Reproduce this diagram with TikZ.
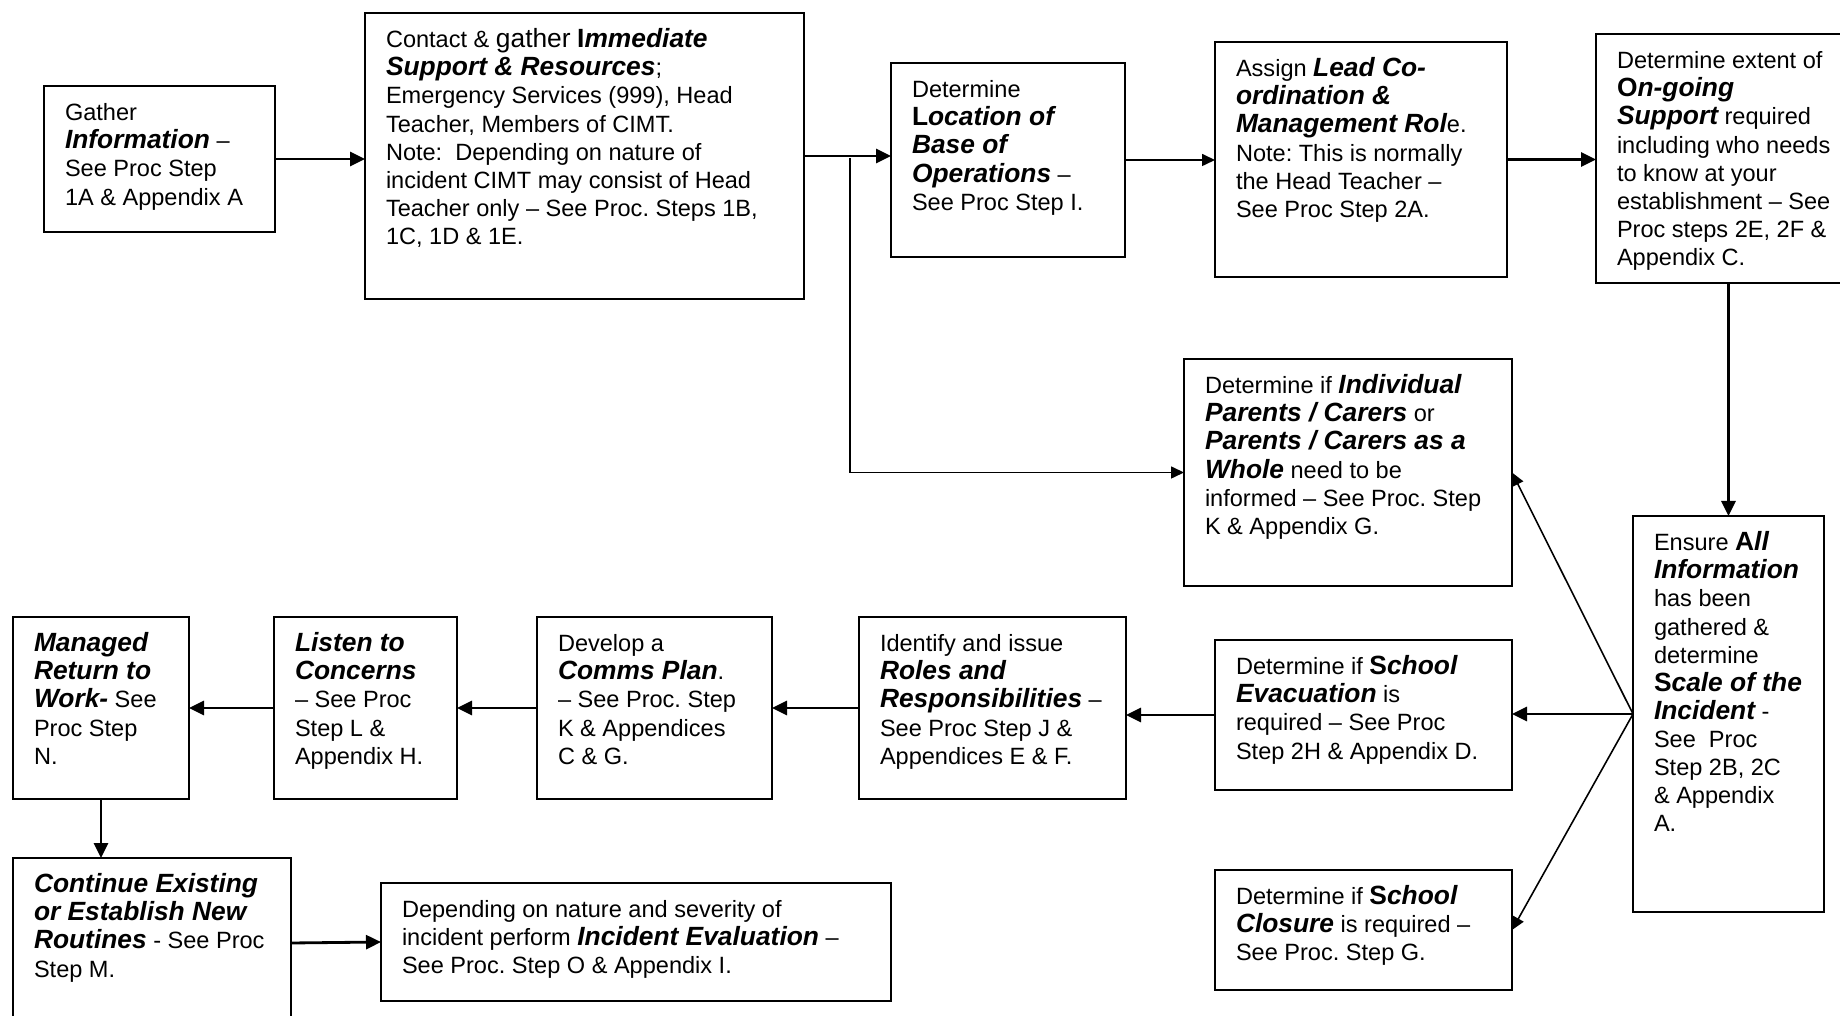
\documentclass[tikz,border=0pt]{standalone}
\usepackage{fontspec}
\setmainfont{Liberation Sans}
\usetikzlibrary{arrows.meta}
\frenchspacing
\newdimen\pxu \pxu=0.1mm
\newcommand{\bi}[1]{{\fontsize{7.5}{8}\selectfont\bfseries\itshape #1}}
\newcommand{\bu}[1]{{\fontsize{7.5}{8}\selectfont\bfseries #1}}
\newcommand{\boxtext}[3]{\hspace*{2.1mm}\parbox[t][\dimexpr#2\pxu-3mm\relax][t]{\dimexpr#1\pxu-2.1mm\relax}{\raggedright\strut #3}}

\begin{document}
\begin{tikzpicture}[->,>={Triangle[length=1.5mm,width=1.4mm]},x=0.1mm,y=-0.1mm,
                    font=\fontsize{6.7}{8}\selectfont]
  \tikzstyle{box}=[draw,-,line width=0.5pt,anchor=north west,inner xsep=0pt,inner ysep=1.5mm,outer sep=0pt]
  \tikzstyle{heavy}=[line width=0.8pt]
  \tikzstyle{light}=[line width=0.45pt,>={Triangle[length=1.3mm,width=1.2mm]}]

  \useasboundingbox (0,0) rectangle (1840,1016);

  % top row
  \node[box] (gather)  at (44,86)   {\boxtext{231}{146}{Gather\\ \bi{Information} –\\ See Proc Step\\ 1A \& Appendix A}};
  \node[box] (contact) at (365,13)  {\boxtext{439}{286}{Contact \& {\fontsize{7.5}{8}\selectfont gather} \bu{I}\bi{mmediate}\\ \bi{Support \& Resources};\\ Emergency Services (999), Head\\ Teacher, Members of CIMT.\\ Note:\ \ Depending on nature of\\ incident CIMT may consist of Head\\ Teacher only – See Proc. Steps 1B,\\ 1C, 1D \& 1E.}};
  \node[box] (loc)     at (891,63)  {\boxtext{234}{194}{Determine\\ \bu{L}\bi{ocation of}\\ \bi{Base of}\\ \bi{Operations} –\\ See Proc Step I.}};
  \node[box] (lead)    at (1215,42) {\boxtext{292}{235}{Assign \bi{Lead Co-}\\ \bi{ordination \&}\\ \bi{Management Rol}e.\\ Note: This is normally\\ the Head Teacher –\\ See Proc Step 2A.}};
  \node[box] (ongo)    at (1596,34) {\boxtext{246}{249}{Determine extent of\\ \bu{O}\bi{n-going}\\ \bi{Support} required\\ including who needs\\ to know at your\\ establishment – See\\ Proc steps 2E, 2F \&\\ Appendix C.}};

  % right column
  \node[box] (par)     at (1184,359) {\boxtext{328}{227}{Determine if \bi{Individual}\\ \bi{Parents / Carers} or\\ \bi{Parents / Carers as a}\\ \bi{Whole} need to be\\ informed – See Proc. Step\\ K \& Appendix G.}};
  \node[box] (ens)     at (1633,516) {\boxtext{191}{396}{Ensure \bu{A}\bi{ll}\\ \bi{Information}\\ has been\\ gathered \&\\ determine\\ \bu{S}\bi{cale of the}\\ \bi{Incident} -\\ See\ \ Proc\\ Step 2B, 2C\\ \& Appendix\\ A.}};
  \node[box] (evac)    at (1215,640) {\boxtext{297}{150}{Determine if \bu{S}\bi{chool}\\ \bi{Evacuation} is\\ required – See Proc\\ Step 2H \& Appendix D.}};
  \node[box] (clos)    at (1215,870) {\boxtext{297}{120}{Determine if \bu{S}\bi{chool}\\ \bi{Closure} is required –\\ See Proc. Step G.}};

  % bottom rows
  \node[box] (roles)   at (859,617)  {\boxtext{267}{182}{Identify and issue\\ \bi{Roles and}\\ \bi{Responsibilities} –\\ See Proc Step J \&\\ Appendices E \& F.}};
  \node[box] (comms)   at (537,617)  {\boxtext{235}{182}{Develop a\\ \bi{Comms Plan}.\\ – See Proc. Step\\ K \& Appendices\\ C \& G.}};
  \node[box] (listen)  at (274,617)  {\boxtext{183}{182}{\bi{Listen to}\\ \bi{Concerns}\\ – See Proc\\ Step L \&\\ Appendix H.}};
  \node[box] (man)     at (13,617)   {\boxtext{176}{182}{\bi{Managed}\\ \bi{Return to}\\ \bi{Work-} See\\ Proc Step\\ N.}};
  \node[box] (cont)    at (13,858)   {\boxtext{278}{170}{\bi{Continue Existing}\\ \bi{or Establish New}\\ \bi{Routines} - See Proc\\ Step M.}};
  \node[box] (eval)    at (381,883)  {\boxtext{510}{118}{Depending on nature and severity of\\ incident perform \bi{Incident Evaluation} –\\ See Proc. Step O \& Appendix I.}};

  \coordinate (split) at (850,158);

  \path[heavy]
    (gather.east)  edge (gather.east -| contact.west)
    (contact.east) edge (contact.east -| loc.west)
    (lead.east)    edge (lead.east -| ongo.west)
    (ens.north |- ongo.south) edge (ens.north)
    (ens.west)     edge (ens.west -| evac.east)
    (evac.west)    edge (evac.west -| roles.east)
    (roles.west)   edge (comms.east)
    (comms.west)   edge (listen.east)
    (listen.west)  edge (man.east)
    (man.south)    edge (man.south |- cont.north)
    (cont.east)    edge (eval.west);

  \path[light]
    (loc.east)  edge (loc.east -| lead.west)
    (split)     edge[to path={|- (\tikztotarget)}] (par.west)
    (ens.west)  edge (par.east)
    (ens.west)  edge (clos.east);

\end{tikzpicture}
\end{document}
